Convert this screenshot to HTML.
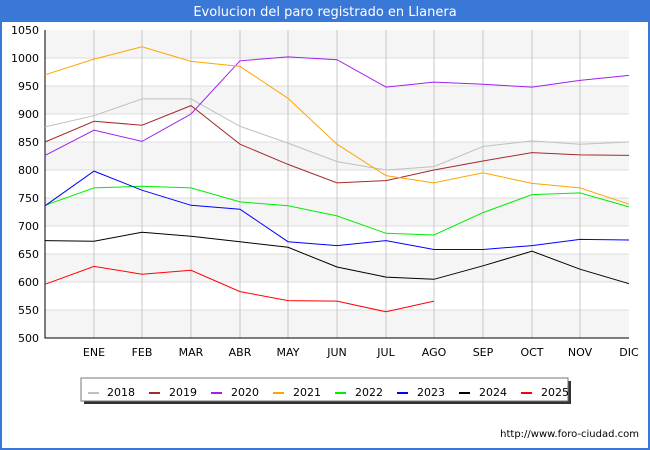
<!DOCTYPE html>
<html><head><style>body{margin:0;background:#fff}svg{display:block;font-family:"DejaVu Sans","Liberation Sans",sans-serif}</style></head><body>
<svg width="650" height="450" xmlns="http://www.w3.org/2000/svg">
<rect x="0" y="0" width="650" height="450" fill="#fff"/>
<rect x="0" y="0" width="650" height="22" fill="#3a78d8"/>
<rect x="0" y="0" width="2" height="450" fill="#3a78d8"/><rect x="648" y="0" width="2" height="450" fill="#3a78d8"/><rect x="0" y="448" width="650" height="2" fill="#3a78d8"/>
<text x="325" y="16" font-size="13" fill="#fff" text-anchor="middle">Evolucion del paro registrado en Llanera</text>
<g fill="#f5f5f5">
<rect x="45" y="30" width="584" height="28"/><rect x="45" y="86" width="584" height="28"/><rect x="45" y="142" width="584" height="28"/><rect x="45" y="198" width="584" height="28"/><rect x="45" y="254" width="584" height="28"/><rect x="45" y="310" width="584" height="28"/>
</g>
<g stroke="#ddd" stroke-width="1">
<line x1="45" x2="629" y1="58" y2="58"/><line x1="45" x2="629" y1="86" y2="86"/><line x1="45" x2="629" y1="114" y2="114"/><line x1="45" x2="629" y1="142" y2="142"/><line x1="45" x2="629" y1="170" y2="170"/><line x1="45" x2="629" y1="198" y2="198"/><line x1="45" x2="629" y1="226" y2="226"/><line x1="45" x2="629" y1="254" y2="254"/><line x1="45" x2="629" y1="282" y2="282"/><line x1="45" x2="629" y1="310" y2="310"/>
</g>
<g stroke="#c8c8c8" stroke-width="1">
<line x1="94" x2="94" y1="30" y2="338"/><line x1="142" x2="142" y1="30" y2="338"/><line x1="191" x2="191" y1="30" y2="338"/><line x1="240" x2="240" y1="30" y2="338"/><line x1="288" x2="288" y1="30" y2="338"/><line x1="337" x2="337" y1="30" y2="338"/><line x1="386" x2="386" y1="30" y2="338"/><line x1="434" x2="434" y1="30" y2="338"/><line x1="483" x2="483" y1="30" y2="338"/><line x1="532" x2="532" y1="30" y2="338"/><line x1="580" x2="580" y1="30" y2="338"/>
</g>
<path d="M45 30V338H629" fill="none" stroke="#000" stroke-width="1"/>
<g font-size="11" fill="#000" text-anchor="end">
<text x="39" y="34">1050</text><text x="39" y="62">1000</text><text x="39" y="90">950</text><text x="39" y="118">900</text><text x="39" y="146">850</text><text x="39" y="174">800</text><text x="39" y="202">750</text><text x="39" y="230">700</text><text x="39" y="258">650</text><text x="39" y="286">600</text><text x="39" y="314">550</text><text x="39" y="342">500</text>
</g>
<g font-size="11" fill="#000" text-anchor="middle">
<text x="94" y="356">ENE</text><text x="142" y="356">FEB</text><text x="191" y="356">MAR</text><text x="240" y="356">ABR</text><text x="288" y="356">MAY</text><text x="337" y="356">JUN</text><text x="386" y="356">JUL</text><text x="434" y="356">AGO</text><text x="483" y="356">SEP</text><text x="532" y="356">OCT</text><text x="580" y="356">NOV</text><text x="629" y="356">DIC</text>
</g>
<g fill="none" stroke-width="1">
<polyline stroke="#c0c0c0" points="45,126.9 94,115.7 142,98.9 191,98.9 240,126.3 288,143.1 337,161.6 386,170 434,166.6 483,146.5 532,140.9 580,144.2 629,142"/>
<polyline stroke="#a52a2a" points="45,142 94,121.3 142,125.2 191,105.6 240,144.2 288,164.4 337,182.9 386,180.6 434,170 483,161 532,152.6 580,154.9 629,155.4"/>
<polyline stroke="#a020f0" points="45,155.4 94,130.2 142,141.4 191,114 240,60.8 288,56.9 337,59.7 386,87.1 434,82.1 483,84.3 532,87.1 580,80.4 629,75.4"/>
<polyline stroke="#ffa500" points="45,74.8 94,59.1 142,46.8 191,61.4 240,66.4 288,98.3 337,144.2 386,175.6 434,182.9 483,172.8 532,183.4 580,187.9 629,204.2"/>
<polyline stroke="#00ee00" points="45,205.3 94,187.9 142,186.2 191,187.9 240,201.9 288,205.8 337,215.9 386,233.3 434,235 483,212.6 532,194.6 580,192.9 629,206.9"/>
<polyline stroke="#0000ff" points="45,205.8 94,171.1 142,190.2 191,205.3 240,209.2 288,241.7 337,245.6 386,240.6 434,249.5 483,249.5 532,245.6 580,239.4 629,240"/>
<polyline stroke="#000000" points="45,240.6 94,241.2 142,232.2 191,236.2 240,241.7 288,247.3 337,267 386,277.1 434,279.3 483,265.8 532,251.2 580,269.2 629,283.7"/>
<polyline stroke="#ff0000" points="45,284.3 94,266.4 142,274.2 191,270.3 240,291.6 288,300.6 337,301.1 386,311.8 434,301.1"/>
</g>
<rect x="84" y="381" width="487" height="23" fill="#333"/>
<rect x="81" y="378" width="487" height="23" fill="#fff" stroke="#777"/>
<g font-size="11" fill="#000">
<rect x="88" y="392" width="11" height="2" fill="#c0c0c0"/><text x="107" y="396">2018</text>
<rect x="149" y="392" width="11" height="2" fill="#a52a2a"/><text x="169" y="396">2019</text>
<rect x="211" y="392" width="11" height="2" fill="#a020f0"/><text x="231" y="396">2020</text>
<rect x="273" y="392" width="11" height="2" fill="#ffa500"/><text x="293" y="396">2021</text>
<rect x="335" y="392" width="11" height="2" fill="#00ee00"/><text x="355" y="396">2022</text>
<rect x="397" y="392" width="11" height="2" fill="#0000ff"/><text x="417" y="396">2023</text>
<rect x="459" y="392" width="11" height="2" fill="#000"/><text x="479" y="396">2024</text>
<rect x="521" y="392" width="11" height="2" fill="#ff0000"/><text x="541" y="396">2025</text>
</g>
<text x="639" y="437" font-size="10" fill="#000" text-anchor="end">http://www.foro-ciudad.com</text>
</svg>
</body></html>
